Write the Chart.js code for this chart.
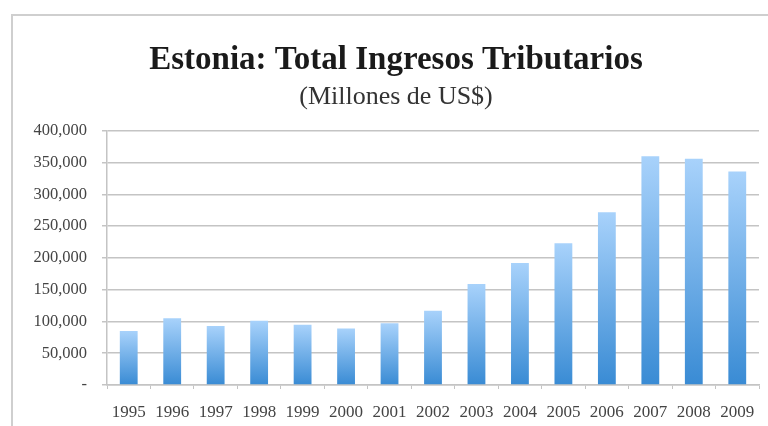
<!DOCTYPE html>
<html>
<head>
<meta charset="utf-8">
<script src="https://cdn.jsdelivr.net/npm/chart.js@4"></script>
<style>
  html, body { margin: 0; padding: 0; background: #fff; }
  #marco {
    position: absolute; left: 11px; top: 14px; width: 800px; height: 450px;
    border-left: 2px solid #cfcfcf; border-top: 2px solid #cfcfcf;
  }
  #caja { position: absolute; left: 0; top: 0; width: 768px; height: 426px; }
</style>
</head>
<body>
<div id="marco"></div>
<div id="caja"><canvas id="chart"></canvas></div>
<script>
// Ingresos tributarios de Estonia, millones de US$
let anios = ['1995', '1996', '1997', '1998', '1999', '2000', '2001', '2002',
             '2003', '2004', '2005', '2006', '2007', '2008', '2009'];
let ingresos = [85000, 105000, 93000, 101000, 95000, 89000, 97000, 117000,
                159000, 192000, 223000, 272000, 360000, 356000, 336000];
let marcasY = [0, 50000, 100000, 150000, 200000, 250000, 300000, 350000, 400000];
let etiquetasY = ['-', '50,000', '100,000', '150,000', '200,000', '250,000', '300,000', '350,000', '400,000'];

let serif = "'Liberation Serif', 'DejaVu Serif', serif";

// degradado por barra: claro arriba, oscuro abajo
let degradado = (c) => {
  let chart = c.chart;
  if (!chart.chartArea || c.raw === undefined) return '#6aaee8';
  let y = chart.scales.y;
  let arriba = y.getPixelForValue(c.raw);
  let abajo = y.getPixelForValue(0);
  let g = chart.ctx.createLinearGradient(0, arriba, 0, abajo);
  g.addColorStop(0, '#a8d2fb');
  g.addColorStop(1, '#398bd4');
  return g;
};

var ctx = document.getElementById('chart').getContext('2d');
var chart = new Chart(ctx, {
  type: 'bar',
  data: {
    labels: anios,
    datasets: [{
      label: 'Ingresos',
      data: ingresos,
      backgroundColor: degradado,
      borderWidth: 0,
      categoryPercentage: 1,
      barPercentage: 0.41
    }]
  },
  options: {
    responsive: true,
    maintainAspectRatio: false,
    animation: false,
    layout: { padding: { left: 33, right: 9, top: 41, bottom: 0 } },
    plugins: {
      legend: { display: false },
      tooltip: { enabled: false },
      title: {
        display: true,
        text: 'Estonia: Total Ingresos Tributarios',
        color: '#1a1a1a',
        font: { family: serif, size: 33, weight: 'bold' },
        padding: { top: 0, bottom: 1 }
      },
      subtitle: {
        display: true,
        text: '(Millones de US$)',
        color: '#333',
        font: { family: serif, size: 26 },
        padding: { top: 0, bottom: 18 }
      }
    },
    scales: {
      x: {
        afterFit: (s) => { s.height = 41; },
        grid: {
          display: true,
          offset: true,
          drawOnChartArea: false,
          tickLength: 4,
          color: '#c4c4c4'
        },
        border: { color: '#c4c4c4', width: 1.5 },
        ticks: {
          color: '#444',
          padding: 13,
          maxRotation: 0,
          autoSkip: false,
          font: { family: serif, size: 17 }
        }
      },
      y: {
        min: 0,
        max: 400000,
        afterFit: (s) => { s.width = 74; },
        afterBuildTicks: (s) => { s.ticks = marcasY.map(v => ({ value: v })); },
        grid: { color: '#c4c4c4', lineWidth: 1.5, tickLength: 5 },
        border: { color: '#c4c4c4', width: 1.5 },
        ticks: {
          color: '#444',
          padding: 15,
          font: { family: serif, size: 16.5 },
          callback: (v, i) => etiquetasY[i]
        }
      }
    }
  }
});
</script>
</body>
</html>
